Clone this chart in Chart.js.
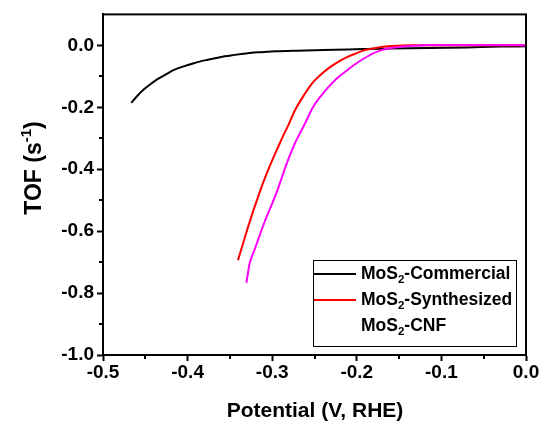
<!DOCTYPE html>
<html>
<head>
<meta charset="utf-8">
<script src="https://cdn.jsdelivr.net/npm/chart.js@4.4.1/dist/chart.umd.min.js"></script>
<style>
  html, body { margin: 0; padding: 0; background: #fff; }
  #wrap { width: 542px; height: 423px; position: relative; }
</style>
</head>
<body>
<div id="wrap"><canvas id="c" width="542" height="423"></canvas></div>
<script>
// ---- data ----
const seriesNames = ['MoS2-Commercial', 'MoS2-Synthesized', 'MoS2-CNF'];

const commercialX = [-0.4666, -0.4590, -0.4509, -0.4430, -0.4351, -0.4250, -0.4154, -0.4056, -0.3956, -0.3860, -0.3760, -0.3660, -0.3562, -0.3465, -0.3365, -0.3268, -0.3168, -0.3070, -0.2970, -0.2700, -0.2400, -0.2100, -0.1925, -0.1600, -0.1136, -0.0700, -0.0300, 0.0000];
const commercialY = [-0.1855, -0.1620, -0.1405, -0.1235, -0.1084, -0.0925, -0.0785, -0.0685, -0.0601, -0.0525, -0.0463, -0.0405, -0.0354, -0.0315, -0.0280, -0.0250, -0.0225, -0.0208, -0.0193, -0.0170, -0.0150, -0.0133, -0.0120, -0.0105, -0.0087, -0.0065, -0.0040, -0.0030];

const synthesizedX = [-0.3405, -0.3345, -0.3286, -0.3227, -0.3168, -0.3110, -0.3050, -0.2990, -0.2931, -0.2872, -0.2813, -0.2734, -0.2650, -0.2517, -0.2420, -0.2320, -0.2220, -0.2122, -0.2020, -0.1925, -0.1830, -0.1728, -0.1630, -0.1530, -0.1400, -0.1200, -0.0800, -0.0400, 0.0000];
const synthesizedY = [-0.694, -0.640, -0.587, -0.537, -0.490, -0.446, -0.404, -0.365, -0.329, -0.293, -0.260, -0.211, -0.172, -0.119, -0.093, -0.071, -0.053, -0.039, -0.027, -0.017, -0.011, -0.006, -0.003, -0.001, 0.000, 0.000, 0.000, 0.000, 0.000];

const cnfX = [-0.3305, -0.3266, -0.3217, -0.3168, -0.3110, -0.3050, -0.2960, -0.2890, -0.2840, -0.2734, -0.2615, -0.2517, -0.2420, -0.2320, -0.2220, -0.2122, -0.2020, -0.1925, -0.1830, -0.1728, -0.1630, -0.1530, -0.1430, -0.1334, -0.1200, -0.1000, -0.0600, -0.0200, 0.0000];
const cnfY = [-0.767, -0.704, -0.666, -0.629, -0.585, -0.543, -0.484, -0.430, -0.390, -0.318, -0.254, -0.199, -0.162, -0.130, -0.103, -0.082, -0.061, -0.044, -0.029, -0.017, -0.010, -0.006, -0.003, -0.001, 0.000, 0.000, 0.000, 0.000, 0.000];

const xTickValues = [-0.5, -0.4, -0.3, -0.2, -0.1, 0.0];
const xMinorTickValues = [-0.45, -0.35, -0.25, -0.15, -0.05];
const yTickValues = [-1.0, -0.8, -0.6, -0.4, -0.2, 0.0];
const yMinorTickValues = [-0.9, -0.7, -0.5, -0.3, -0.1];
const xAxisTitle = 'Potential (V, RHE)';
const yAxisTitle = 'TOF (s';
const yAxisTitleSup = '-1';
// ---------------------------------------

const FONT = "'Liberation Sans', Arial, sans-serif";

function toPoints(xs, ys) { return xs.map((x, i) => ({ x: x, y: ys[i] })); }

const minorTicksPlugin = {
  id: 'minorTicks',
  afterDatasetsDraw(chart) {
    const ctx = chart.ctx, a = chart.chartArea;
    const xs = chart.scales.x, ys = chart.scales.y;
    ctx.save();
    ctx.strokeStyle = '#000';
    ctx.lineWidth = 2;
    ctx.beginPath();
    xMinorTickValues.forEach(v => {
      const px = Math.round(xs.getPixelForValue(v));
      ctx.moveTo(px, a.bottom); ctx.lineTo(px, a.bottom + 4);
    });
    yMinorTickValues.forEach(v => {
      const py = Math.round(ys.getPixelForValue(v));
      ctx.moveTo(a.left, py); ctx.lineTo(a.left - 4, py);
    });
    ctx.stroke();
    ctx.lineWidth = 2;
    ctx.strokeRect(a.left, a.top, a.right - a.left, a.bottom - a.top);
    ctx.restore();
  }
};

const titlesPlugin = {
  id: 'titles',
  afterDraw(chart) {
    const ctx = chart.ctx;
    ctx.save();
    ctx.fillStyle = '#000';
    ctx.font = 'bold 21px ' + FONT;
    ctx.textAlign = 'center';
    ctx.textBaseline = 'alphabetic';
    ctx.fillText(xAxisTitle, 315, 417);

    ctx.translate(41, 168);
    ctx.rotate(-Math.PI / 2);
    ctx.textAlign = 'left';
    const mainFont = 'bold 23px ' + FONT;
    const supFont = 'bold 15px ' + FONT;
    ctx.font = mainFont;
    const w1 = ctx.measureText(yAxisTitle).width;
    const w3 = ctx.measureText(')').width;
    ctx.font = supFont;
    const w2 = ctx.measureText(yAxisTitleSup).width;
    const total = w1 + w2 + w3;
    const x0 = -total / 2;
    ctx.font = mainFont;
    ctx.fillText(yAxisTitle, x0, 0);
    ctx.font = supFont;
    ctx.fillText(yAxisTitleSup, x0 + w1, -10);
    ctx.font = mainFont;
    ctx.fillText(')', x0 + w1 + w2, 0);
    ctx.restore();
  }
};

const legendPlugin = {
  id: 'boxLegend',
  afterDraw(chart, args, opts) {
    const ctx = chart.ctx;
    ctx.save();
    ctx.fillStyle = '#fff';
    ctx.fillRect(313, 260, 203, 86);
    ctx.strokeStyle = '#000';
    ctx.lineWidth = 1;
    ctx.strokeRect(313.5, 260.5, 203, 86);
    const rows = [274, 300, 326];
    chart.data.datasets.forEach((ds, i) => {
      const y = rows[i];
      const sample = opts.sampleColors[i];
      if (sample) {
        ctx.strokeStyle = sample;
        ctx.lineWidth = 2;
        ctx.beginPath();
        ctx.moveTo(314, y); ctx.lineTo(356, y);
        ctx.stroke();
      }
      const name = ds.label;
      const idx = name.indexOf('2');
      const pre = name.slice(0, idx), sub = '2', post = name.slice(idx + 1);
      let x = 361;
      ctx.fillStyle = '#000';
      ctx.textBaseline = 'middle';
      ctx.textAlign = 'left';
      ctx.font = 'bold 17.5px ' + FONT;
      ctx.fillText(pre, x, y);
      x += ctx.measureText(pre).width;
      ctx.font = 'bold 11.5px ' + FONT;
      ctx.fillText(sub, x, y + 6);
      x += ctx.measureText(sub).width;
      ctx.font = 'bold 17.5px ' + FONT;
      ctx.fillText(post, x, y);
    });
    ctx.restore();
  }
};

const datasets = [
  { label: seriesNames[0], data: toPoints(commercialX, commercialY), borderColor: '#000000', order: 2 },
  { label: seriesNames[1], data: toPoints(synthesizedX, synthesizedY), borderColor: '#FF0000', order: 1 },
  { label: seriesNames[2], data: toPoints(cnfX, cnfY), borderColor: '#FF00FF', order: 0 }
].map(d => Object.assign(d, {
  showLine: true, pointRadius: 0, borderWidth: 2, fill: false,
  cubicInterpolationMode: 'monotone'
}));

new Chart(document.getElementById('c'), {
  type: 'scatter',
  data: { datasets: datasets },
  options: {
    responsive: false,
    animation: false,
    devicePixelRatio: 1,
    layout: { padding: { left: 0, right: 16, top: 14, bottom: 0 } },
    plugins: {
      legend: { display: false },
      tooltip: { enabled: false },
      boxLegend: { sampleColors: ['#000000', '#FF0000', null] }
    },
    scales: {
      x: {
        type: 'linear', min: -0.5, max: 0.0,
        afterFit(s) { s.height = 68; },
        afterBuildTicks(s) { s.ticks = xTickValues.map(v => ({ value: v })); },
        ticks: {
          color: '#000', padding: 0,
          font: { family: FONT, weight: 'bold', size: 19 },
          callback: v => Number(v).toFixed(1)
        },
        grid: { display: true, drawOnChartArea: false, drawTicks: true, tickLength: 6, tickWidth: 2, tickColor: '#000', color: '#000' },
        border: { display: true, color: '#000', width: 2 }
      },
      y: {
        type: 'linear', min: -1.0, max: 0.1,
        afterFit(s) { s.width = 103; },
        afterBuildTicks(s) { s.ticks = yTickValues.map(v => ({ value: v })); },
        ticks: {
          color: '#000', padding: 3,
          font: { family: FONT, weight: 'bold', size: 19 },
          callback: v => Number(v).toFixed(1)
        },
        grid: { display: true, drawOnChartArea: false, drawTicks: true, tickLength: 6, tickWidth: 2, tickColor: '#000', color: '#000' },
        border: { display: true, color: '#000', width: 2 }
      }
    }
  },
  plugins: [minorTicksPlugin, titlesPlugin, legendPlugin]
});
</script>
</body>
</html>
